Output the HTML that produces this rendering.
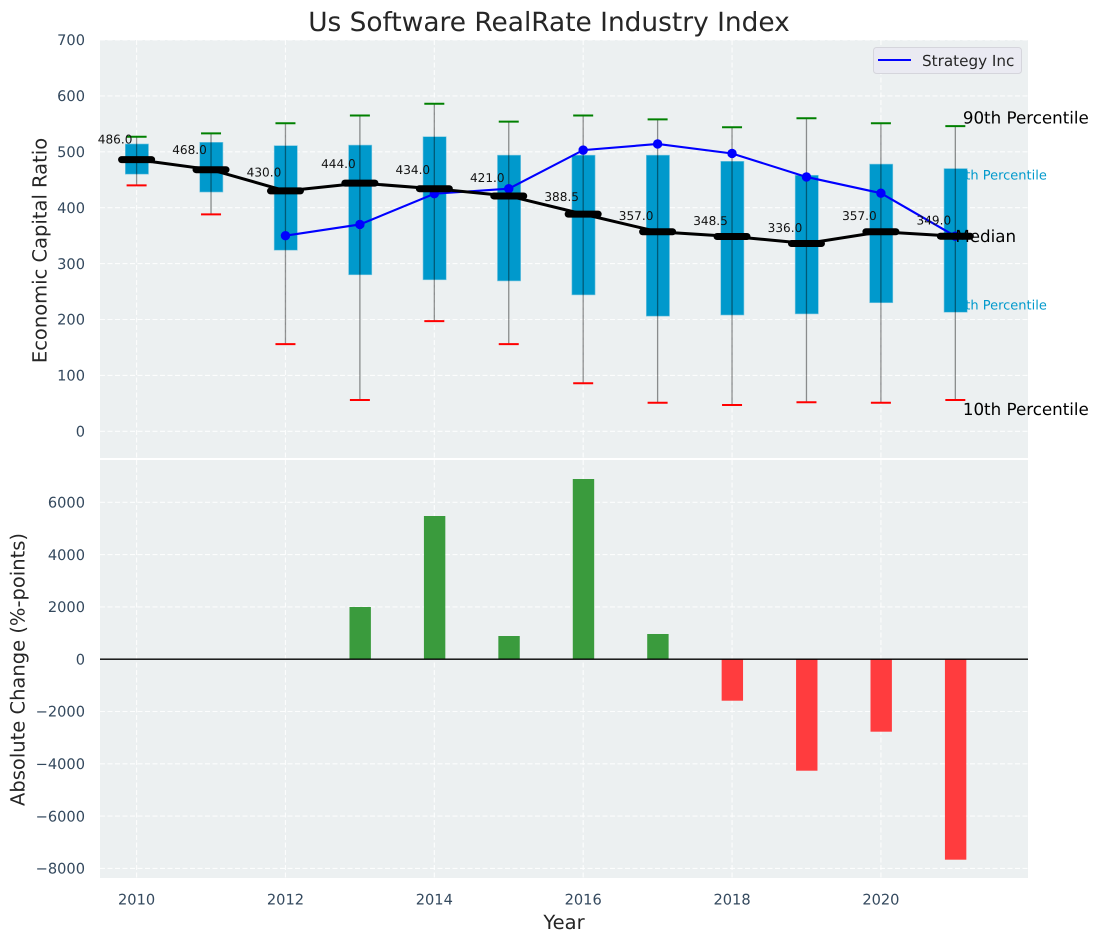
<!DOCTYPE html>
<html lang="en">
<head>
<meta charset="utf-8">
<title>Us Software RealRate Industry Index</title>
<style>
html,body{margin:0;padding:0;background:#fff;}
svg{display:block;font-family:"DejaVu Sans","Liberation Sans",sans-serif;text-rendering:geometricPrecision;}
.tick{font-size:14.6px;fill:#34495e;}
.axis-title{font-size:19.5px;fill:#262626;}
.median-label{font-size:12.1px;fill:#111;}
.pct-label{font-size:16.7px;fill:#000;}
.pct-box-label{font-size:13px;fill:#0099cc;}
</style>
</head>
<body>
<svg id="chart" width="1098" height="942" viewBox="0 0 1098 942" xmlns="http://www.w3.org/2000/svg">
  <rect x="0" y="0" width="1098" height="942" fill="#ffffff"/>
  <text x="549" y="31" text-anchor="middle" font-size="26.4px" fill="#262626">Us Software RealRate Industry Index</text>
  <rect x="100" y="40" width="928" height="418" fill="#ecf0f1"/>
  <rect x="100" y="460" width="928" height="418" fill="#ecf0f1"/>
  <g id="grid"></g>
  <g id="ticks"></g>
  <text class="axis-title" transform="translate(46.5,250.5) rotate(-90)" text-anchor="middle">Economic Capital Ratio</text>
  <text class="axis-title" transform="translate(24.5,669.5) rotate(-90)" text-anchor="middle">Absolute Change (%-points)</text>
  <text class="axis-title" x="564" y="929" text-anchor="middle">Year</text>
  <g id="top-marks"></g>
  <g id="bottom-marks"></g>
  <g>
    <rect x="873.5" y="47.5" width="148" height="26" rx="3" fill="#eaeaf2" stroke="#d5d5dc" stroke-width="1"/>
    <line x1="878" y1="60" x2="911" y2="60" stroke="#0000ff" stroke-width="2"/>
    <text x="922" y="66" font-size="15.2px" fill="#262626">Strategy Inc</text>
  </g>
</svg>
<script>
const years = [2010, 2011, 2012, 2013, 2014, 2015, 2016, 2017, 2018, 2019, 2020, 2021];
const p90 = [527, 533, 551, 565, 586, 554, 565, 558, 544, 560, 551, 546];
const p75 = [514, 517, 511, 512, 527, 494, 494, 494, 483, 458, 478, 470];
const medians = [486, 468, 430, 444, 434, 421, 388.5, 357, 348.5, 336, 357, 349];
const p25 = [460, 428, 324, 280, 271, 269, 244, 206, 208, 210, 230, 213];
const p10 = [440, 388, 156, 56, 197, 156, 86, 51, 47, 52, 51, 56];
const strategyYears = [2012, 2013, 2014, 2015, 2016, 2017, 2018, 2019, 2020, 2021];
const strategyValues = [350, 370, 425, 434, 503, 514, 497, 455, 426, 349];
const changeYears = [2013, 2014, 2015, 2016, 2017, 2018, 2019, 2020, 2021];
const changeValues = [1996, 5476, 887, 6891, 964, -1587, -4264, -2772, -7667];
const xTickValues = [2010, 2012, 2014, 2016, 2018, 2020];
const topTickValues = [0, 100, 200, 300, 400, 500, 600, 700];
const bottomTickValues = [-8000, -6000, -4000, -2000, 0, 2000, 4000, 6000];

const NS = 'http://www.w3.org/2000/svg';
function xAxis(v) { return 136.6 + (v - 2010) * 74.43; }
function yTop(v) { return 431.3 - v * 0.559; }
function yBottom(v) { return 659.2 - v * 0.02615; }

function make(parent, tag, props, text) {
  const el = document.createElementNS(NS, tag);
  for (const k in props) el.setAttribute(k, props[k]);
  if (text !== undefined) el.textContent = text;
  parent.appendChild(el);
  return el;
}

const gridG = document.getElementById('grid');
const ticksG = document.getElementById('ticks');
const topG = document.getElementById('top-marks');
const bottomG = document.getElementById('bottom-marks');
const gridStyle = { stroke: '#ffffff', 'stroke-width': 1.1, 'stroke-dasharray': '5 2.5', 'stroke-opacity': 0.85 };

xTickValues.forEach(function (v) {
  const x = xAxis(v);
  [[40, 458], [460, 878]].forEach(function (r) {
    const ln = make(gridG, 'line', Object.assign({ x1: x, x2: x, y1: r[0], y2: r[1] }, gridStyle));
    
    
  });
  const t = make(ticksG, 'text', { class: 'tick', x: x, y: 904.5, 'text-anchor': 'middle' }, String(v));
  
  
});

topTickValues.forEach(function (v) {
  const y = yTop(v);
  const ln = make(gridG, 'line', Object.assign({ x1: 100, x2: 1028, y1: y, y2: y }, gridStyle));
  
  
  const t = make(ticksG, 'text', { class: 'tick', x: 85, y: y + 5.2, 'text-anchor': 'end' }, String(v));
  
  
});

bottomTickValues.forEach(function (v) {
  const y = yBottom(v);
  const ln = make(gridG, 'line', Object.assign({ x1: 100, x2: 1028, y1: y, y2: y }, gridStyle));
  
  
  const t = make(ticksG, 'text', { class: 'tick', x: 85, y: y + 5.2, 'text-anchor': 'end' }, String(v).replace('-', '\u2212'));
  
  
});

const lastIndex = years.length - 1;

years.forEach(function (yr, i) {
  const x = xAxis(yr);
  const box = make(topG, 'rect', { x: x - 11.3, y: yTop(p75[i]), width: 23.2, height: yTop(p25[i]) - yTop(p75[i]), fill: '#0099cc', stroke: '#7cc7e0', 'stroke-width': 0.6 });
  
  
});

const label75 = make(topG, 'text', { class: 'pct-box-label', x: xAxis(years[lastIndex]) - 6.6, y: yTop(p75[lastIndex]) + 10.8 }, '75th Percentile');


const label25 = make(topG, 'text', { class: 'pct-box-label', x: xAxis(years[lastIndex]) - 6.6, y: yTop(p25[lastIndex]) - 2.5 }, '25th Percentile');



years.forEach(function (yr, i) {
  const x = xAxis(yr);
  const whisker = make(topG, 'line', { x1: x, x2: x, y1: yTop(p90[i]), y2: yTop(p10[i]), stroke: '#000000', 'stroke-opacity': 0.42, 'stroke-width': 1.3 });
  
  
  const capHi = make(topG, 'line', { x1: x - 10, x2: x + 10, y1: yTop(p90[i]), y2: yTop(p90[i]), stroke: '#008000', 'stroke-width': 2 });
  
  
  const capLo = make(topG, 'line', { x1: x - 10, x2: x + 10, y1: yTop(p10[i]), y2: yTop(p10[i]), stroke: '#ff0000', 'stroke-width': 2 });
  
  
});

const strategyLine = make(topG, 'polyline', {
  points: strategyYears.map(function (yr, i) { return xAxis(yr) + ',' + yTop(strategyValues[i]); }).join(' '),
  fill: 'none', stroke: '#0000ff', 'stroke-width': 2.1
});


strategyYears.forEach(function (yr, i) {
  const pt = make(topG, 'circle', { cx: xAxis(yr), cy: yTop(strategyValues[i]), r: 4.7, fill: '#0000ff' });
  
  
});

const medianLine = make(topG, 'polyline', {
  points: years.map(function (yr, i) { return xAxis(yr) + ',' + yTop(medians[i]); }).join(' '),
  fill: 'none', stroke: '#000000', 'stroke-width': 3
});


years.forEach(function (yr, i) {
  const x = xAxis(yr);
  const y = yTop(medians[i]);
  const bar = make(topG, 'line', { x1: x - 15, x2: x + 15, y1: y, y2: y, stroke: '#000000', 'stroke-width': 7, 'stroke-linecap': 'round' });
  
  
  const t = make(topG, 'text', { class: 'median-label', x: x - 21.5, y: yTop(medians[i] * 1.06), 'text-anchor': 'middle' }, medians[i].toFixed(1));
  
  
});

const label90 = make(topG, 'text', { class: 'pct-label', x: xAxis(years[lastIndex]) + 7.5, y: yTop(p90[lastIndex]) - 2.5 }, '90th Percentile');


const labelMedian = make(topG, 'text', { class: 'pct-label', x: xAxis(years[lastIndex]), y: yTop(medians[lastIndex]) + 5.8 }, 'Median');


const label10 = make(topG, 'text', { class: 'pct-label', x: xAxis(years[lastIndex]) + 7.5, y: yTop(p10[lastIndex]) + 15 }, '10th Percentile');



changeYears.forEach(function (yr, i) {
  const v = changeValues[i];
  const y0 = yBottom(0);
  const y1 = yBottom(v);
  const bar = make(bottomG, 'rect', {
    x: xAxis(yr) - 10.4, y: Math.min(y0, y1), width: 21.4, height: Math.abs(y1 - y0),
    fill: v >= 0 ? '#3a9b3d' : '#ff3c3e'
  });
  
  
});
const zero = make(bottomG, 'line', { x1: 100, x2: 1028, y1: yBottom(0), y2: yBottom(0), stroke: '#000000', 'stroke-width': 1.4 });


</script>
</body>
</html>
